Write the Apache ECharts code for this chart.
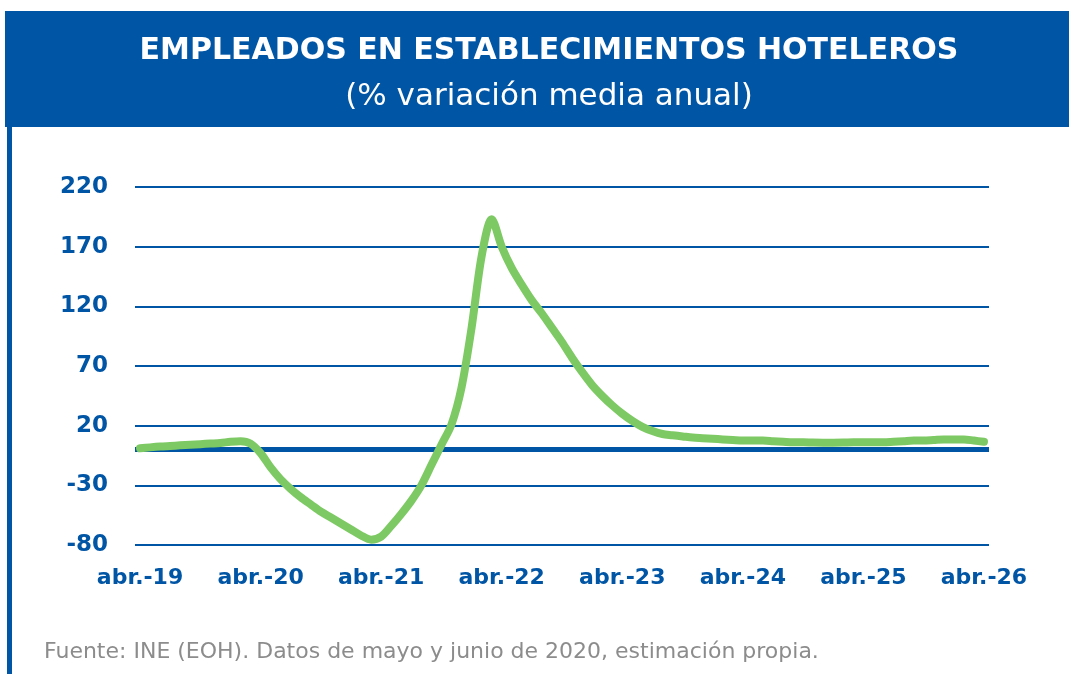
<!DOCTYPE html>
<html>
<head>
<meta charset="utf-8">
<title>Empleados en establecimientos hoteleros</title>
<script src="https://cdn.jsdelivr.net/npm/echarts@6/dist/echarts.min.js"></script>
<style>
  html, body { margin: 0; padding: 0; background: #fff; }
  #chart { width: 1069px; height: 674px; }
</style>
</head>
<body>
<div id="chart"></div>
<script>
// meses desde abr.-19 (0) hasta abr.-26 (84)
const empleados = [
  1, 1.8, 2.5, 3, 3.5, 4, 4.5, 5, 5.5, 6.5, 7, 5,
  -3, -15, -25, -33, -40, -46, -52, -57, -62, -67, -72, -75.5,
  -73, -64, -54, -43, -30, -13, 4, 21, 52, 102, 162, 193,
  170, 152, 138, 125, 114, 102, 90, 77, 65, 54, 45, 37,
  30, 24, 19, 15.5, 13, 12, 11, 10, 9.5, 9, 8.5, 8,
  7.5, 7.5, 7.5, 7, 6.5, 6, 6, 5.8, 5.7, 5.7, 5.8, 6,
  6, 6, 6, 6.5, 7, 7.5, 7.5, 8, 8.5, 8.5, 8.5, 7.5,
  6.5
];
const tickMonths = [0, 12, 24, 36, 48, 60, 72, 84];
const tickLabels = ["abr.-19", "abr.-20", "abr.-21", "abr.-22", "abr.-23", "abr.-24", "abr.-25", "abr.-26"];

const blue = "#0055A5";
const green = "#7DC963";
const labelFont = "DejaVu Sans";

const chart = echarts.init(document.getElementById("chart"));

const option = {
  animation: false,
  graphic: [
    { type: "rect", shape: { x: 5, y: 11, width: 1064, height: 116 }, style: { fill: blue }, z: 0 },
    { type: "rect", shape: { x: 7, y: 11, width: 5, height: 663 }, style: { fill: blue }, z: 0 },
    {
      type: "text", x: 549, y: 51, z: 2,
      style: {
        text: "EMPLEADOS EN ESTABLECIMIENTOS HOTELEROS",
        fill: "#fff", font: "bold 30px 'DejaVu Sans'",
        align: "center", verticalAlign: "middle"
      }
    },
    {
      type: "text", x: 549, y: 97, z: 2,
      style: {
        text: "(% variación media anual)",
        fill: "#fff", font: "31px 'DejaVu Sans'",
        align: "center", verticalAlign: "middle"
      }
    },
    {
      type: "text", x: 44, y: 652,
      style: {
        text: "Fuente: INE (EOH). Datos de mayo y junio de 2020, estimación propia.",
        fill: "#8c8c8c", font: "22px 'DejaVu Sans'", verticalAlign: "middle"
      }
    }
  ],
  grid: { left: 135, right: 80, top: 187, bottom: 129, containLabel: false },
  xAxis: {
    type: "value",
    min: -0.5,
    max: 84.5,
    axisLine: { show: false },
    axisTick: { show: false },
    splitLine: { show: false },
    axisLabel: {
      customValues: tickMonths,
      formatter: function (v) { return tickLabels[tickMonths.indexOf(v)]; },
      color: blue, fontSize: 22, fontWeight: "bold", fontFamily: labelFont, margin: 22
    }
  },
  yAxis: {
    type: "value",
    min: -80,
    max: 220,
    interval: 50,
    axisLine: { show: false },
    axisTick: { show: false },
    axisLabel: { color: blue, fontSize: 23, fontWeight: "bold", fontFamily: labelFont, margin: 27 },
    splitLine: { lineStyle: { color: blue, width: 2 } }
  },
  series: [
    {
      type: "line",
      data: [],
      z: 1,
      silent: true,
      markLine: {
        silent: true,
        symbol: "none",
        label: { show: false },
        lineStyle: { color: blue, width: 5, type: "solid" },
        data: [{ yAxis: 0 }]
      }
    },
    {
      name: "Empleados",
      type: "line",
      z: 5,
      smooth: 0.3,
      showSymbol: false,
      lineStyle: { color: green, width: 8, cap: "round", join: "round" },
      data: empleados.map(function (v, i) { return [i, v]; })
    }
  ]
};

chart.setOption(option);
</script>
</body>
</html>
